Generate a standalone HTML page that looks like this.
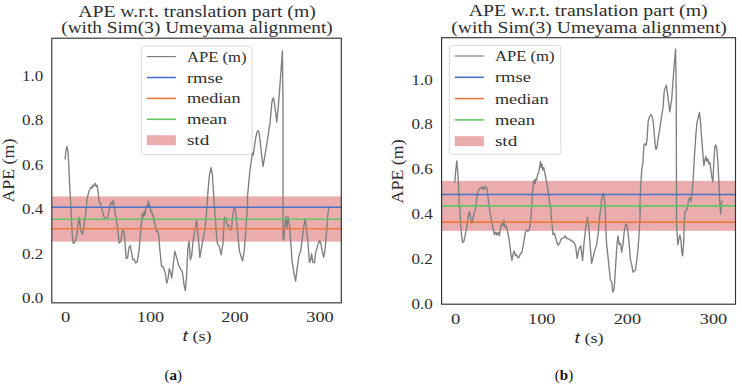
<!DOCTYPE html>
<html><head><meta charset="utf-8"><title>APE plots</title>
<style>
html,body{margin:0;padding:0;background:#fff;}
body{width:742px;height:388px;overflow:hidden;font-family:"Liberation Serif",serif;}
svg{display:block;}
svg text{font-family:"Liberation Serif",serif;fill:#2e2e2e;}
</style></head>
<body>
<svg width="742" height="388" viewBox="0 0 742 388">
<rect width="742" height="388" fill="#fff"/>
<g>
<clipPath id="c51"><rect x="51.8" y="38.2" width="289.50" height="264.65"/></clipPath>
<g clip-path="url(#c51)">
<rect x="51.8" y="196.4" width="289.50" height="45.20" fill="#ebacae"/>
<polyline points="65.03,159.31 66.04,150.04 67.04,146.28 68.04,152.54 68.79,165.08 69.54,182.62 70.30,196.40 70.80,205.93 71.55,221.04 72.30,236.08 73.30,243.59 75.06,241.84 77.06,233.57 78.07,223.54 79.07,217.28 80.07,224.80 80.82,231.06 82.58,234.32 83.58,227.30 84.58,221.04 85.83,212.27 87.09,198.91 89.09,190.64 90.10,189.64 90.85,187.13 92.10,188.13 92.85,185.13 93.85,186.38 95.11,183.12 96.11,186.38 97.11,185.13 98.12,192.64 99.12,201.42 100.12,202.67 101.37,207.68 102.88,212.69 104.13,217.21 105.38,218.21 107.14,217.71 108.39,214.70 109.64,207.68 110.90,202.17 112.15,203.92 113.40,200.16 114.16,206.43 115.41,215.20 115.91,216.03 117.66,228.56 119.17,243.09 120.92,241.09 122.18,231.06 123.68,229.81 124.68,238.58 126.19,258.63 127.69,257.38 128.94,247.35 130.45,245.60 131.70,253.62 132.95,259.88 134.21,259.38 135.46,262.89 137.21,261.64 138.97,251.11 140.47,233.57 142.23,216.03 140.78,228.53 141.61,221.83 142.45,213.45 143.29,216.80 144.13,211.78 144.96,215.13 145.80,208.43 146.64,205.91 147.48,206.75 148.31,200.89 149.15,206.75 149.99,205.08 150.83,211.78 151.66,210.94 152.50,215.96 153.34,215.13 154.18,220.99 155.52,226.85 156.69,231.88 157.86,231.04 156.76,229.81 158.52,233.57 159.77,248.61 161.52,266.15 163.53,267.40 165.28,273.67 166.79,283.19 168.04,278.68 169.29,268.66 170.55,272.42 171.80,278.18 173.05,266.15 174.81,251.11 176.56,257.38 178.57,264.90 180.32,268.66 182.33,271.66 184.08,284.95 185.33,290.71 186.59,276.18 187.84,248.61 189.09,241.09 190.35,259.88 191.60,256.13 193.10,241.09 194.86,231.06 196.61,219.78 197.86,231.06 199.87,257.38 201.37,248.61 203.13,238.58 204.88,229.81 206.64,211.01 207.89,192.64 209.39,175.10 211.15,167.58 212.40,175.10 213.65,195.15 214.91,213.52 216.16,231.06 217.41,243.59 219.17,246.10 221.17,254.87 222.93,243.59 224.43,217.28 225.93,218.53 227.44,226.05 228.69,224.80 229.94,229.81 231.45,229.81 232.70,214.77 233.70,209.51 234.71,208.01 235.71,211.51 237.45,231.06 239.46,251.11 242.47,261.14 244.22,251.11 245.72,231.06 247.48,206.00 247.48,196.47 249.98,170.15 252.49,152.61 253.24,155.11 255.75,137.57 257.00,132.06 258.01,130.55 259.01,132.56 260.01,140.08 261.51,153.86 263.02,166.39 266.28,147.59 270.04,122.53 272.04,101.16 273.29,97.65 274.30,101.91 275.55,111.93 276.80,121.96 278.81,100.66 282.44,51.03 283.07,113.19 283.07,239.83 283.82,239.83 284.57,228.56 285.82,216.53 286.83,228.56 288.08,216.53 289.58,226.05 290.84,243.59 292.09,261.14 293.84,272.42 295.60,281.19 297.10,268.66 298.86,256.13 300.61,251.11 302.62,236.08 303.87,226.05 305.12,218.53 306.38,228.56 307.88,241.09 309.38,262.39 310.64,259.88 311.64,253.62 312.89,262.39 314.40,262.89 315.65,252.37 316.90,248.61 318.16,243.59 319.41,240.59 320.91,243.59 322.17,251.11 323.67,257.38 325.17,248.61 326.43,233.57 327.68,216.03 328.93,206.00" fill="none" stroke="#7f7f7f" stroke-width="1.35" stroke-linejoin="round"/>
<line x1="51.8" x2="341.3" y1="207.3" y2="207.3" stroke="#4c72c8" stroke-width="1.6"/>
<line x1="51.8" x2="341.3" y1="228.8" y2="228.8" stroke="#ee7a3c" stroke-width="1.6"/>
<line x1="51.8" x2="341.3" y1="219.2" y2="219.2" stroke="#62c462" stroke-width="1.6"/>
</g>
<rect x="51.8" y="38.2" width="289.50" height="264.65" fill="none" stroke="#333" stroke-width="1.15"/>
<rect x="141.3" y="46.0" width="110.80" height="108.60" rx="2.5" fill="#fff" fill-opacity="0.8" stroke="#d6d6d6" stroke-width="0.9"/>
<line x1="146.8" x2="175.9" y1="56.6" y2="56.6" stroke="#7f7f7f" stroke-width="1.2"/>
<text x="186.9" y="61.6" font-size="15.5" text-anchor="start" textLength="59.7" lengthAdjust="spacingAndGlyphs" >APE (m)</text>
<line x1="146.8" x2="175.9" y1="77.5" y2="77.5" stroke="#4c72c8" stroke-width="1.6"/>
<text x="186.9" y="82.5" font-size="15.5" text-anchor="start" textLength="36.0" lengthAdjust="spacingAndGlyphs" >rmse</text>
<line x1="146.8" x2="175.9" y1="98.4" y2="98.4" stroke="#ee7a3c" stroke-width="1.6"/>
<text x="186.9" y="103.4" font-size="15.5" text-anchor="start" textLength="53.6" lengthAdjust="spacingAndGlyphs" >median</text>
<line x1="146.8" x2="175.9" y1="119.3" y2="119.3" stroke="#62c462" stroke-width="1.6"/>
<text x="186.9" y="124.3" font-size="15.5" text-anchor="start" textLength="40.1" lengthAdjust="spacingAndGlyphs" >mean</text>
<rect x="146.8" y="135.2" width="29.1" height="10" fill="#ebacae"/>
<text x="186.9" y="145.2" font-size="15.5" text-anchor="start" textLength="22.3" lengthAdjust="spacingAndGlyphs" >std</text>
<text x="43.2" y="303.05" font-size="15.0" text-anchor="end" textLength="21.3" lengthAdjust="spacingAndGlyphs" >0.0</text>
<text x="43.2" y="258.65" font-size="15.0" text-anchor="end" textLength="21.3" lengthAdjust="spacingAndGlyphs" >0.2</text>
<text x="43.2" y="214.25" font-size="15.0" text-anchor="end" textLength="21.3" lengthAdjust="spacingAndGlyphs" >0.4</text>
<text x="43.2" y="169.85" font-size="15.0" text-anchor="end" textLength="21.3" lengthAdjust="spacingAndGlyphs" >0.6</text>
<text x="43.2" y="125.45" font-size="15.0" text-anchor="end" textLength="21.3" lengthAdjust="spacingAndGlyphs" >0.8</text>
<text x="43.2" y="81.05" font-size="15.0" text-anchor="end" textLength="21.3" lengthAdjust="spacingAndGlyphs" >1.0</text>
<text x="65.7" y="321.7" font-size="15.0" text-anchor="middle" textLength="9.3" lengthAdjust="spacingAndGlyphs" >0</text>
<text x="150.5" y="321.7" font-size="15.0" text-anchor="middle" textLength="27.4" lengthAdjust="spacingAndGlyphs" >100</text>
<text x="235.0" y="321.7" font-size="15.0" text-anchor="middle" textLength="27.4" lengthAdjust="spacingAndGlyphs" >200</text>
<text x="320.0" y="321.7" font-size="15.0" text-anchor="middle" textLength="27.4" lengthAdjust="spacingAndGlyphs" >300</text>
<text x="197" y="17.0" font-size="17.5" text-anchor="middle" textLength="237.5" lengthAdjust="spacingAndGlyphs" >APE w.r.t. translation part (m)</text>
<text x="197" y="33.0" font-size="17.5" text-anchor="middle" textLength="271.5" lengthAdjust="spacingAndGlyphs" >(with Sim(3) Umeyama alignment)</text>
<text transform="translate(13.9,170.6) rotate(-90)" font-size="16.2" text-anchor="middle" textLength="64" lengthAdjust="spacingAndGlyphs">APE (m)</text>
<text x="182.6" y="340.6" font-size="14.5" font-style="italic" style="font-family:'Liberation Sans',sans-serif" textLength="5.2" lengthAdjust="spacingAndGlyphs">t</text>
<text x="192.4" y="340.6" font-size="15.5" textLength="19.2" lengthAdjust="spacingAndGlyphs">(s)</text>
</g>
<g>
<clipPath id="c441"><rect x="441.6" y="37.7" width="293.90" height="266.50"/></clipPath>
<g clip-path="url(#c441)">
<rect x="441.6" y="180.9" width="293.90" height="49.90" fill="#ebacae"/>
<polyline points="454.78,182.62 455.79,170.09 456.79,160.81 457.79,172.59 458.54,185.13 459.30,207.68 459.80,207.00 460.55,222.04 461.55,234.57 462.55,242.59 464.06,240.83 465.31,234.57 466.56,228.30 467.82,219.53 469.07,212.01 470.07,213.27 470.82,219.53 471.83,223.29 472.83,219.53 474.08,213.27 475.59,208.25 476.84,197.66 478.09,191.39 479.35,188.88 480.60,187.63 481.85,188.88 482.85,186.88 484.11,189.64 485.11,186.38 486.36,187.13 487.37,191.39 488.62,202.67 490.37,214.52 491.88,222.04 493.13,228.30 494.38,234.57 495.64,232.06 496.89,235.07 498.14,232.06 499.40,235.82 500.65,227.05 501.90,223.29 502.90,225.80 503.91,220.03 504.91,227.05 506.16,225.80 507.42,230.81 508.67,237.08 509.92,245.85 511.18,255.87 511.93,260.38 512.93,254.62 514.18,250.86 515.44,255.87 516.69,254.62 517.94,257.88 519.20,257.13 520.45,253.37 521.70,252.86 522.95,247.10 524.21,239.58 525.46,232.06 526.71,229.56 527.97,231.31 529.22,230.06 530.47,222.04 531.73,207.00 532.48,192.64 533.48,181.37 534.23,180.11 534.98,183.87 535.74,178.86 536.74,180.11 537.74,173.85 538.74,172.59 539.75,166.33 540.50,161.32 541.25,167.58 542.00,163.82 542.75,170.09 543.76,167.58 544.76,172.59 545.76,177.61 546.76,183.87 547.77,188.88 548.77,195.15 550.02,205.18 550.52,207.00 551.78,222.04 553.03,234.57 554.28,233.32 555.54,237.08 556.79,242.09 558.29,245.10 559.55,243.34 560.80,239.58 562.03,238.33 564.04,237.58 565.29,235.82 566.54,238.33 569.05,239.08 571.56,240.83 574.06,242.59 575.82,247.10 577.07,258.38 578.57,250.86 579.83,247.10 580.83,245.85 581.83,254.62 582.58,260.38 584.09,242.09 585.84,227.05 587.35,217.03 588.60,224.54 590.10,244.59 591.61,263.39 593.11,257.13 594.61,250.86 596.62,244.59 598.37,232.06 599.63,217.03 600.88,207.00 601.88,197.66 603.39,193.15 604.64,200.66 605.64,217.71 605.39,222.04 606.64,244.59 607.90,255.87 609.15,268.40 610.40,279.68 611.66,282.19 612.91,292.21 614.16,288.45 615.42,269.66 616.67,248.35 617.92,235.82 619.18,244.59 620.43,243.34 621.68,252.11 622.93,244.59 624.19,232.06 625.44,224.54 626.69,224.04 627.95,232.06 629.20,244.59 630.45,259.63 631.71,264.64 632.96,272.16 634.21,270.91 635.47,269.66 636.72,260.88 637.97,249.61 639.23,232.06 640.48,207.00 639.73,210.19 640.73,185.13 641.73,170.09 642.83,163.65 644.00,144.39 645.00,143.89 646.18,145.23 647.01,139.36 648.19,120.94 649.53,116.75 650.87,114.74 652.04,115.91 653.21,121.78 654.22,133.50 655.22,145.23 655.89,149.41 656.73,148.58 657.90,140.20 659.58,130.15 661.25,118.43 662.93,108.38 664.29,90.63 666.29,85.12 667.80,95.64 669.80,111.93 671.81,98.15 673.56,73.09 675.57,49.28 676.19,88.13 676.57,222.04 676.82,229.56 677.82,244.59 678.82,239.58 679.83,235.07 680.83,239.58 681.83,252.11 682.58,255.87 683.59,244.59 684.34,222.04 684.84,212.69 685.84,210.19 686.84,210.19 687.85,205.18 688.85,198.91 689.85,197.66 690.85,201.42 691.86,195.15 693.11,180.11 694.36,157.56 695.87,135.00 696.87,123.21 698.12,118.20 699.38,112.44 700.63,123.21 701.38,135.00 702.38,147.53 703.39,160.06 703.89,165.58 704.89,160.06 705.89,156.30 706.89,161.32 707.90,158.81 708.90,163.82 709.90,162.57 710.90,170.09 711.91,177.61 712.91,181.87 713.91,160.06 714.91,146.28 715.92,145.03 716.92,150.04 717.92,162.57 718.92,182.62 719.93,205.18 720.68,213.95 721.43,202.67 722.43,200.66" fill="none" stroke="#7f7f7f" stroke-width="1.35" stroke-linejoin="round"/>
<line x1="441.6" x2="735.5" y1="194.5" y2="194.5" stroke="#4c72c8" stroke-width="1.6"/>
<line x1="441.6" x2="735.5" y1="222.1" y2="222.1" stroke="#ee7a3c" stroke-width="1.6"/>
<line x1="441.6" x2="735.5" y1="205.9" y2="205.9" stroke="#62c462" stroke-width="1.6"/>
</g>
<rect x="441.6" y="37.7" width="293.90" height="266.50" fill="none" stroke="#333" stroke-width="1.15"/>
<rect x="449.3" y="45.4" width="111.50" height="108.90" rx="2.5" fill="#fff" fill-opacity="0.8" stroke="#d6d6d6" stroke-width="0.9"/>
<line x1="454.8" x2="483.9" y1="56.0" y2="56.0" stroke="#7f7f7f" stroke-width="1.2"/>
<text x="494.9" y="61.0" font-size="15.5" text-anchor="start" textLength="59.7" lengthAdjust="spacingAndGlyphs" >APE (m)</text>
<line x1="454.8" x2="483.9" y1="77.3" y2="77.3" stroke="#4c72c8" stroke-width="1.6"/>
<text x="494.9" y="82.3" font-size="15.5" text-anchor="start" textLength="36.0" lengthAdjust="spacingAndGlyphs" >rmse</text>
<line x1="454.8" x2="483.9" y1="98.6" y2="98.6" stroke="#ee7a3c" stroke-width="1.6"/>
<text x="494.9" y="103.6" font-size="15.5" text-anchor="start" textLength="53.6" lengthAdjust="spacingAndGlyphs" >median</text>
<line x1="454.8" x2="483.9" y1="119.9" y2="119.9" stroke="#62c462" stroke-width="1.6"/>
<text x="494.9" y="124.9" font-size="15.5" text-anchor="start" textLength="40.1" lengthAdjust="spacingAndGlyphs" >mean</text>
<rect x="454.8" y="136.2" width="29.1" height="10" fill="#ebacae"/>
<text x="494.9" y="146.2" font-size="15.5" text-anchor="start" textLength="22.3" lengthAdjust="spacingAndGlyphs" >std</text>
<text x="432.8" y="308.55" font-size="15.0" text-anchor="end" textLength="21.3" lengthAdjust="spacingAndGlyphs" >0.0</text>
<text x="432.8" y="263.75" font-size="15.0" text-anchor="end" textLength="21.3" lengthAdjust="spacingAndGlyphs" >0.2</text>
<text x="432.8" y="218.95" font-size="15.0" text-anchor="end" textLength="21.3" lengthAdjust="spacingAndGlyphs" >0.4</text>
<text x="432.8" y="174.15" font-size="15.0" text-anchor="end" textLength="21.3" lengthAdjust="spacingAndGlyphs" >0.6</text>
<text x="432.8" y="129.35" font-size="15.0" text-anchor="end" textLength="21.3" lengthAdjust="spacingAndGlyphs" >0.8</text>
<text x="432.8" y="84.55" font-size="15.0" text-anchor="end" textLength="21.3" lengthAdjust="spacingAndGlyphs" >1.0</text>
<text x="455.6" y="323.6" font-size="15.0" text-anchor="middle" textLength="9.3" lengthAdjust="spacingAndGlyphs" >0</text>
<text x="541.8" y="323.6" font-size="15.0" text-anchor="middle" textLength="27.4" lengthAdjust="spacingAndGlyphs" >100</text>
<text x="627.4" y="323.6" font-size="15.0" text-anchor="middle" textLength="27.4" lengthAdjust="spacingAndGlyphs" >200</text>
<text x="713.5" y="323.6" font-size="15.0" text-anchor="middle" textLength="27.4" lengthAdjust="spacingAndGlyphs" >300</text>
<text x="588.2" y="16.0" font-size="17.5" text-anchor="middle" textLength="239" lengthAdjust="spacingAndGlyphs" >APE w.r.t. translation part (m)</text>
<text x="589.1" y="32.5" font-size="17.5" text-anchor="middle" textLength="275.5" lengthAdjust="spacingAndGlyphs" >(with Sim(3) Umeyama alignment)</text>
<text transform="translate(402.9,171.4) rotate(-90)" font-size="16.2" text-anchor="middle" textLength="64" lengthAdjust="spacingAndGlyphs">APE (m)</text>
<text x="574.6" y="342.6" font-size="14.5" font-style="italic" style="font-family:'Liberation Sans',sans-serif" textLength="5.2" lengthAdjust="spacingAndGlyphs">t</text>
<text x="584.4" y="342.6" font-size="15.5" textLength="19.2" lengthAdjust="spacingAndGlyphs">(s)</text>
</g>
<text x="173.2" y="379.7" font-size="15" text-anchor="middle" style="fill:#111">(<tspan font-weight="bold">a</tspan>)</text>
<text x="564" y="379.7" font-size="15" text-anchor="middle" style="fill:#111">(<tspan font-weight="bold">b</tspan>)</text>
</svg>
</body></html>
